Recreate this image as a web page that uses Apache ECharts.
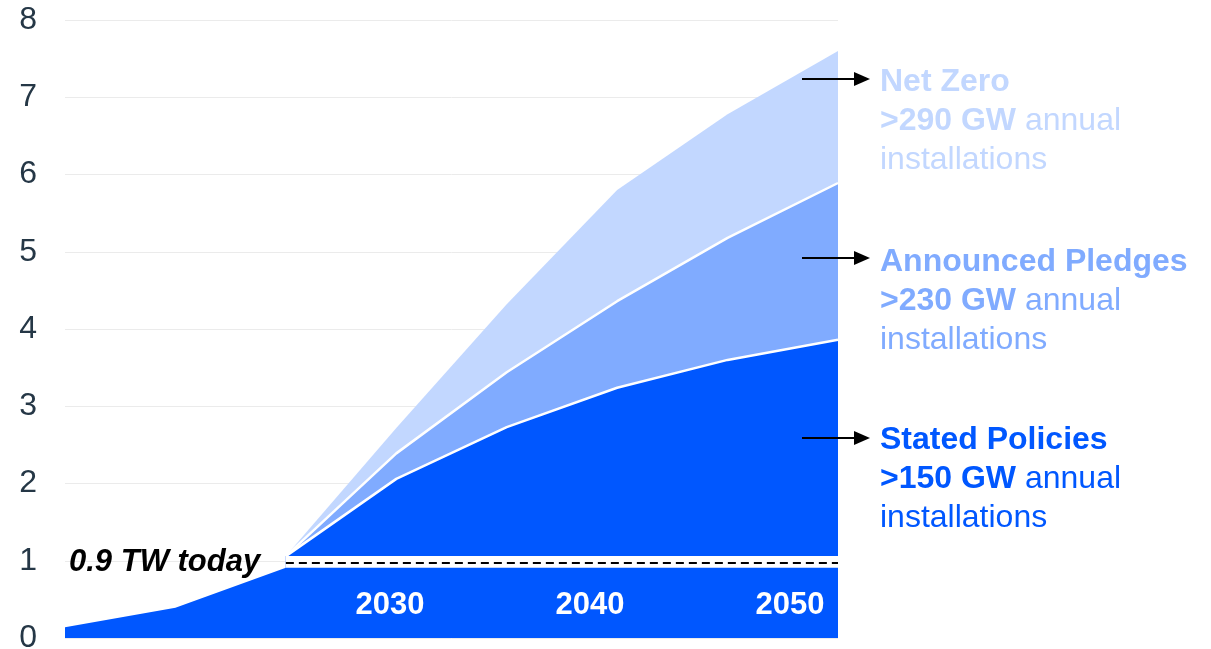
<!DOCTYPE html>
<html>
<head>
<meta charset="utf-8">
<script src="https://cdn.jsdelivr.net/npm/echarts@6/dist/echarts.min.js"></script>
<style>html,body{margin:0;padding:0;background:#fff}#c{width:1211px;height:649px}</style>
</head>
<body>
<div id="c"></div>
<script>
// ---- data ----
const categories = ['2010', '2015', '2022', '2030', '2035', '2040', '2045', '2050'];
const todayBase = [0.14, 0.39, 0.91, 0.91, 0.91, 0.91, 0.91, 0.91];
const todayBand = [null, null, 1.06, 1.06, 1.06, 1.06, 1.06, 1.06];
const todayLine = [null, null, 0.97, 0.97, 0.97, 0.97, 0.97, 0.97];
const statedPolicies = [null, null, 1.06, 2.06, 2.73, 3.24, 3.60, 3.86];
const announcedPledges = [null, null, 1.06, 2.39, 3.44, 4.36, 5.18, 5.89];
const netZero = [null, null, 1.06, 2.72, 4.32, 5.80, 6.78, 7.60];
const yearTicks = [2030, 2040, 2050];
const yTicks = [0, 1, 2, 3, 4, 5, 6, 7, 8];

const C_SP = '#0057FF', C_AP = '#80ABFF', C_NZ = '#C2D7FF';
const FONT = '"Liberation Sans", Arial, sans-serif';

const chart = echarts.init(document.getElementById('c'), null, {renderer: 'canvas'});

function areaSeries(name, data, color, lineColor, lineWidth, z) {
  return {
    name, type: 'line', data, z, symbol: 'none', silent: true,
    lineStyle: {color: lineColor, width: lineWidth},
    areaStyle: {color, opacity: 1},
    itemStyle: {color}
  };
}

function block(top, title, value, color) {
  return {
    type: 'text', left: 880, top, z: 100,
    style: {
      text: '{b|' + title + '}\n{b|' + value + '}{r| annual}\n{r|installations}',
      fill: color,
      rich: {
        b: {fontFamily: FONT, fontSize: 32, fontWeight: 'bold', lineHeight: 39, fill: color},
        r: {fontFamily: FONT, fontSize: 32, fontWeight: 'normal', lineHeight: 39, fill: color}
      }
    }
  };
}
function arrow(y) {
  return [
    {type: 'line', z: 100, shape: {x1: 802, y1: y, x2: 858, y2: y}, style: {stroke: '#000', lineWidth: 2}},
    {type: 'polygon', z: 100, shape: {points: [[854, y - 7], [870, y], [854, y + 7]]}, style: {fill: '#000'}}
  ];
}

chart.setOption({
  animation: false,
  backgroundColor: '#fff',
  grid: {left: 65, right: 373, top: 20, bottom: 11, containLabel: false, outerBoundsMode: 'none'},
  xAxis: [
    {type: 'category', data: categories, boundaryGap: false,
     axisLine: {show: false}, axisTick: {show: false}, axisLabel: {show: false}, splitLine: {show: false}},
    {type: 'value', min: 2013.75, max: 2052.4, position: 'bottom', z: 50,
     axisLine: {show: false}, axisTick: {show: false}, splitLine: {show: false},
     axisLabel: {inside: true, customValues: yearTicks, margin: 17, color: '#fff', fontFamily: FONT,
                 fontSize: 31, fontWeight: 'bold', formatter: v => String(v)}}
  ],
  yAxis: {
    type: 'value', min: 0, max: 8, interval: 1,
    axisLine: {show: false}, axisTick: {show: false},
    splitLine: {lineStyle: {color: '#EBEBEB', width: 1}},
    axisLabel: {color: '#253746', fontFamily: FONT, fontSize: 32, margin: 28,
                formatter: v => yTicks.includes(v) ? String(v) : ''}
  },
  series: [
    areaSeries('Net Zero', netZero, C_NZ, C_NZ, 0, 2),
    areaSeries('Announced Pledges', announcedPledges, C_AP, '#fff', 2.5, 3),
    areaSeries('Stated Policies', statedPolicies, C_SP, '#fff', 2.5, 4),
    areaSeries('band', todayBand, '#fff', '#fff', 0, 5),
    areaSeries('Today', todayBase, C_SP, C_SP, 0, 6),
    {name: 'todayLine', type: 'line', data: todayLine, z: 7, symbol: 'none', silent: true,
     lineStyle: {color: '#000', width: 2, type: [8, 5]}}
  ],
  graphic: [
    {type: 'text', left: 69, top: 547, z: 100,
     style: {text: '0.9 TW today', fill: '#000', font: 'italic bold 31px ' + FONT}},
    block(66, 'Net Zero', '>290 GW', C_NZ),
    block(246, 'Announced Pledges', '>230 GW', C_AP),
    block(424, 'Stated Policies', '>150 GW', C_SP),
    ...arrow(79), ...arrow(258), ...arrow(438)
  ]
});
</script>
</body>
</html>
